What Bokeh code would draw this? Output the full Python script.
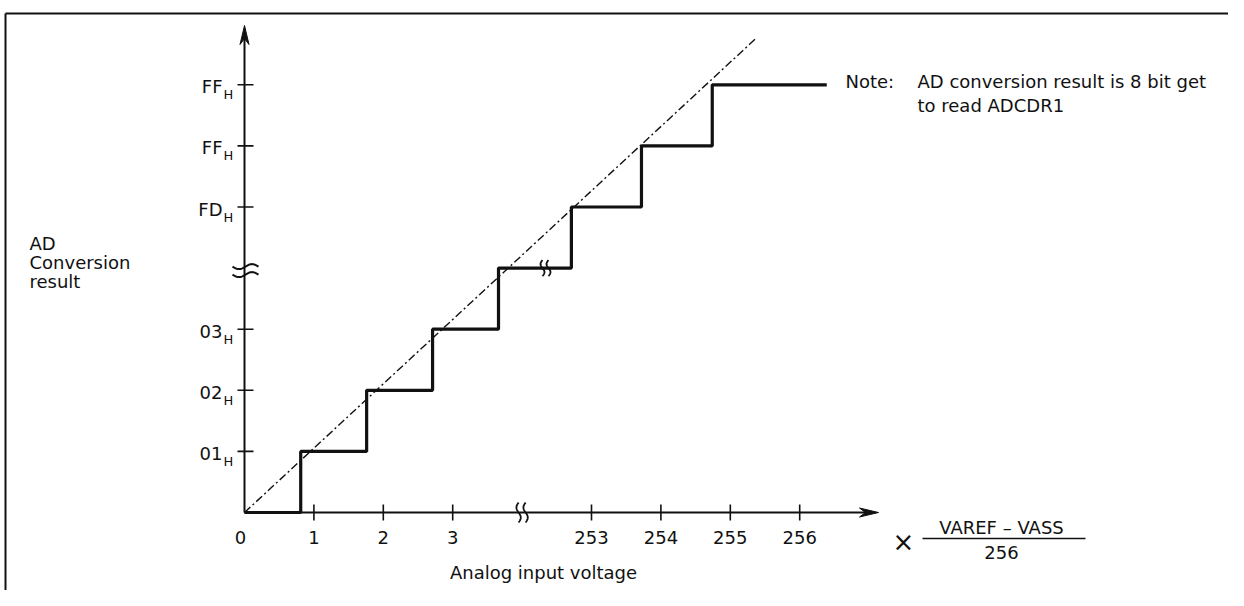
import numpy as np
from bokeh.plotting import figure
from bokeh.models import Range1d
from bokeh.core.properties import value
from bokeh.embed import file_html
from bokeh.resources import INLINE

# ---------------- data ----------------
x_tick_pos = [1, 2, 3, 5, 6, 7, 8]
x_tick_labels = ["1", "2", "3", "253", "254", "255", "256"]
x_break_pos = 4.0
y_tick_pos = [1, 2, 3, 5, 6, 7]
y_tick_main = ["01", "02", "03", "FD", "FF", "FF"]
y_tick_sub = "H"
y_break_pos = 4.0
# staircase: code level k holds from step_x[k] to step_x[k+1]
step_x = [0, 0.81, 1.76, 2.71, 3.66, 4.71, 5.72, 6.74, 8.39]
step_level = [0, 1, 2, 3, 4, 5, 6, 7]
ideal_x = [0, 7.38]
ideal_y = [0, 7.77]

# ---------------- geometry ----------------
W, H = 1228, 590
SX, SY = 69.4, 61.1          # px per unit
OX, OY = 244, 512            # origin in picture px (from left / from top)

def dx(px):
    return px / SX
def dy(px):
    return px / SY
def fx(page_x):
    return (page_x - OX) / SX
def fy(page_y):
    return (OY - page_y) / SY

p = figure(width=W, height=H, output_backend="svg", toolbar_location=None,
           x_range=Range1d(-OX / SX, (W - OX) / SX),
           y_range=Range1d(-(H - OY) / SY, OY / SY),
           x_axis_type=None, y_axis_type=None, min_border=0)
p.grid.visible = False
p.outline_line_color = None
p.background_fill_color = "white"
p.border_fill_color = "white"

FONT = value("DejaVu Sans")
FS = value("18px")
BLK = "#111111"

# frame lines (top and left)
p.line([fx(5), fx(1244)], [fy(13), fy(13)], line_color=BLK, line_width=2)
p.line([fx(5), fx(5)], [fy(13), fy(606)], line_color=BLK, line_width=2)

# axes
x_end = fx(878)
y_end = fy(25)
p.line([0, x_end - dx(10)], [0, 0], line_color=BLK, line_width=2)
p.line([0, 0], [0, y_end - dy(10)], line_color=BLK, line_width=2)
# arrow heads
p.patch([x_end, x_end - dx(19), x_end - dx(13), x_end - dx(19)],
        [0, dy(4.5), 0, -dy(4.5)], fill_color=BLK, line_color=BLK, line_width=1)
p.patch([0, dx(4.5), 0, -dx(4.5)],
        [y_end, y_end - dy(19), y_end - dy(13), y_end - dy(19)],
        fill_color=BLK, line_color=BLK, line_width=1)

# ticks
p.segment(x0=x_tick_pos, y0=[-dy(8)] * len(x_tick_pos),
          x1=x_tick_pos, y1=[dy(8)] * len(x_tick_pos), line_color=BLK, line_width=1.6)
p.segment(x0=[-dx(7)] * len(y_tick_pos), y0=y_tick_pos,
          x1=[dx(9)] * len(y_tick_pos), y1=y_tick_pos, line_color=BLK, line_width=1.6)

# tick labels
p.text(x=[fx(240)], y=[-dy(25)], text=["0"], text_font=FONT,
       text_font_size=FS, text_align="center", text_baseline="middle", text_color=BLK)
p.text(x=x_tick_pos, y=[-dy(25)] * len(x_tick_pos), text=x_tick_labels, text_font=FONT,
       text_font_size=FS, text_align="center", text_baseline="middle", text_color=BLK)
p.text(x=[-dx(22)] * len(y_tick_pos), y=[v - dy(2) for v in y_tick_pos], text=y_tick_main,
       text_font=FONT, text_font_size=FS, text_align="right",
       text_baseline="middle", text_color=BLK)
p.text(x=[-dx(21)] * len(y_tick_pos), y=[v - dy(10) for v in y_tick_pos],
       text=[y_tick_sub] * len(y_tick_pos), text_font=FONT, text_font_size=value("13px"),
       text_align="left", text_baseline="middle", text_color=BLK)

# axis break marks
t = np.linspace(0, 1, 30)
for off in (-1.5, 6.5):
    xs = -dx(12) + dx(26) * t
    ys = y_break_pos - dy(off) + dy(2.5) * np.sin(2 * np.pi * t + np.pi)
    p.line(list(xs), list(ys), line_color=BLK, line_width=2)
for off in (-3.5, 3.5):
    ys = -dy(10) + dy(20) * t
    xs = x_break_pos + dx(off) + dx(2.2) * np.sin(2 * np.pi * t)
    p.line(list(xs), list(ys), line_color=BLK, line_width=1.8)

# ideal conversion line
p.line(ideal_x, ideal_y, line_color=BLK, line_width=1.4, line_dash="8 3 2 3")

# staircase
sx, sy = [], []
for k, lvl in enumerate(step_level):
    sx += [step_x[k], step_x[k + 1]]
    sy += [lvl, lvl]
p.line(sx, sy, line_color=BLK, line_width=3.2)
# break mark on staircase
bx = fx(545)
for off in (-3, 3):
    ys = y_break_pos - dy(8) + dy(16) * t
    xs = bx + dx(off) + dx(2) * np.sin(2 * np.pi * t)
    p.line(list(xs), list(ys), line_color=BLK, line_width=1.8)

# y title
p.text(x=[fx(29)] * 3, y=[fy(243), fy(262), fy(281)], text=["AD", "Conversion", "result"],
       text_font=FONT, text_font_size=FS, text_align="left",
       text_baseline="middle", text_color=BLK)
# x title
p.text(x=[fx(543)], y=[fy(572)], text=["Analog input voltage"], text_font=FONT,
       text_font_size=FS, text_align="center", text_baseline="middle", text_color=BLK)

# scale factor
p.text(x=[fx(903)], y=[fy(541)], text=["×"], text_font=FONT, text_font_size=value("26px"),
       text_align="center", text_baseline="middle", text_color=BLK)
p.text(x=[fx(1001)], y=[fy(527)], text=["VAREF – VASS"], text_font=FONT,
       text_font_size=FS, text_align="center", text_baseline="middle", text_color=BLK)
p.line([fx(922), fx(1085)], [fy(538), fy(538)], line_color=BLK, line_width=1.6)
p.text(x=[fx(1001)], y=[fy(552)], text=["256"], text_font=FONT,
       text_font_size=FS, text_align="center", text_baseline="middle", text_color=BLK)

# note
p.text(x=[fx(845)], y=[fy(81)], text=["Note:"], text_font=FONT,
       text_font_size=FS, text_align="left", text_baseline="middle", text_color=BLK)
p.text(x=[fx(917)] * 2, y=[fy(81), fy(105)], text=["AD conversion result is 8 bit get", "to read ADCDR1"],
       text_font=FONT, text_font_size=FS, text_align="left",
       text_baseline="middle", text_color=BLK)

open("out.html", "w").write(file_html(p, INLINE))
